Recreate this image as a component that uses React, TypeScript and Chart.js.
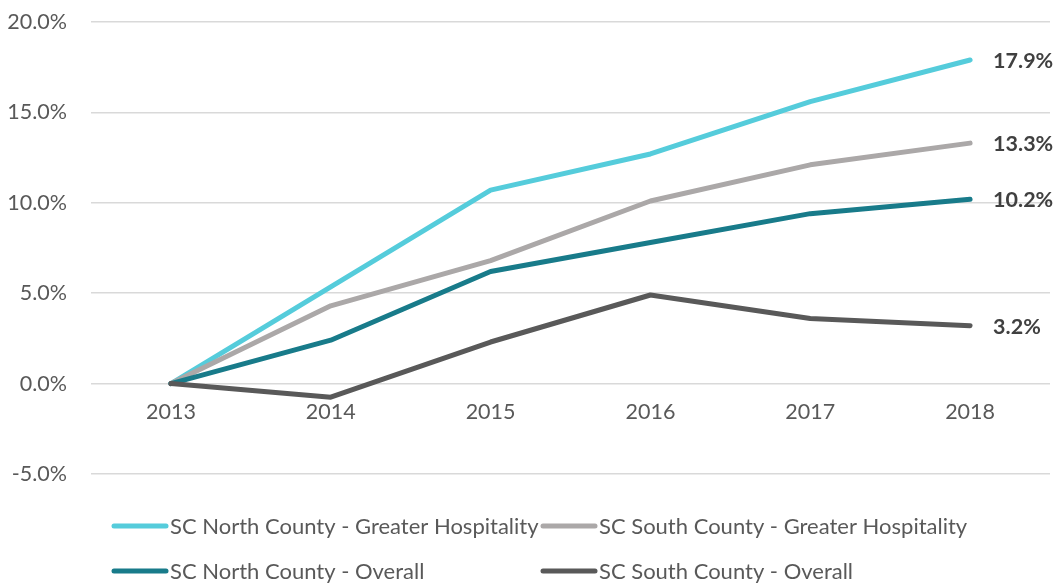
import React, { useEffect, useRef } from "react";
import { Chart, registerables } from "chart.js";

Chart.register(...registerables);

const years = ["2013", "2014", "2015", "2016", "2017", "2018"];
const northGreater = [0, 5.35, 10.7, 12.7, 15.6, 17.9];
const southGreater = [0, 4.3, 6.8, 10.1, 12.1, 13.3];
const northOverall = [0, 2.4, 6.2, 7.8, 9.4, 10.2];
const southOverall = [0, -0.75, 2.3, 4.9, 3.6, 3.2];
const seriesNames = [
  "SC North County - Greater Hospitality",
  "SC South County - Greater Hospitality",
  "SC North County - Overall",
  "SC South County - Overall",
];
const seriesColors = ["#55CCDB", "#ABA8A8", "#187B8A", "#595959"];

const FONT = "Lato, 'Open Sans', sans-serif";

const endLabelPlugin = {
  id: "endLabels",
  afterDatasetsDraw(chart: any) {
    const ctx = chart.ctx;
    ctx.save();
    ctx.font = `bold 21.5px ${FONT}`;
    ctx.fillStyle = "#404040";
    ctx.textAlign = "left";
    ctx.textBaseline = "middle";
    chart.data.datasets.forEach((ds: any, i: number) => {
      const meta = chart.getDatasetMeta(i);
      const last = meta.data[meta.data.length - 1];
      const v = ds.data[ds.data.length - 1];
      ctx.fillText(v.toFixed(1) + "%", last.x + 23, last.y + 1);
    });
    ctx.restore();
  },
};

const legendPlugin = {
  id: "customLegend",
  afterDraw(chart: any) {
    const ctx = chart.ctx;
    ctx.save();
    ctx.font = `22px ${FONT}`;
    ctx.textBaseline = "middle";
    ctx.textAlign = "left";
    const cols = [112, 541];
    const rows = [526, 571];
    chart.data.datasets.forEach((ds: any, i: number) => {
      const x = cols[i % 2];
      const y = rows[Math.floor(i / 2)];
      ctx.strokeStyle = ds.borderColor;
      ctx.lineWidth = 5;
      ctx.lineCap = "round";
      ctx.beginPath();
      ctx.moveTo(x + 2, y);
      ctx.lineTo(x + 54, y);
      ctx.stroke();
      ctx.fillStyle = "#595959";
      ctx.fillText(ds.label, x + 58, y + 1);
    });
    ctx.restore();
  },
};

export default function App() {
  const ref = useRef<HTMLCanvasElement | null>(null);
  useEffect(() => {
    if (!ref.current) return;
    const series = [northGreater, southGreater, northOverall, southOverall];
    const chart = new Chart(ref.current, {
      type: "line",
      data: {
        labels: years,
        datasets: series.map((d, i) => ({
          label: seriesNames[i],
          data: d,
          borderColor: seriesColors[i],
          backgroundColor: seriesColors[i],
          borderWidth: 5,
          pointRadius: 0,
          borderCapStyle: "round" as const,
          borderJoinStyle: "round" as const,
          tension: 0,
          fill: false,
          order: 4 - i,
        })),
      },
      options: {
        animation: false,
        responsive: false,
        maintainAspectRatio: false,
        layout: { padding: { top: 22, right: 5, bottom: 110, left: 0 } },
        plugins: {
          legend: { display: false },
          tooltip: { enabled: false },
        },
        scales: {
          x: {
            type: "category",
            position: { y: 0 } as any,
            offset: true,
            grid: { display: false },
            border: { display: false },
            afterFit(scale: any) {
              scale.height = 0;
            },
            ticks: {
              color: "#595959",
              font: { family: FONT, size: 21.5 },
              padding: 8,
              maxRotation: 0,
            },
          },
          y: {
            min: -5,
            max: 20,
            grid: { color: "#D9D9D9", lineWidth: 1.5, drawTicks: false },
            border: { display: false },
            afterFit(scale: any) {
              scale.width = 91;
              scale.paddingTop = 0;
            },
            ticks: {
              stepSize: 5,
              color: "#595959",
              font: { family: FONT, size: 21.5 },
              padding: 24,
              callback: (v: any) => Number(v).toFixed(1) + "%",
            },
          },
        },
      },
      plugins: [endLabelPlugin, legendPlugin],
    });
    return () => chart.destroy();
  }, []);
  return (
    <div style={{ position: "absolute", left: 0, top: 0, width: 1055, height: 584, background: "#fff" }}>
      <canvas ref={ref} width={1055} height={584} style={{ display: "block" }} />
    </div>
  );
}
